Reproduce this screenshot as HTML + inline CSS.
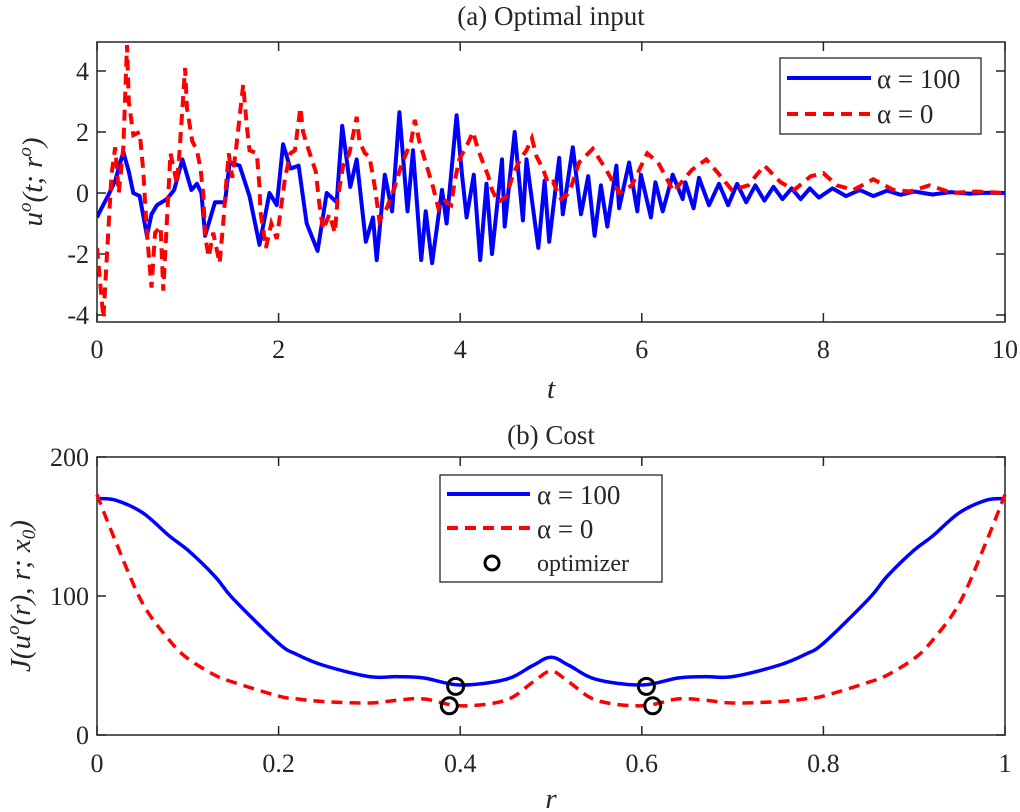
<!DOCTYPE html>
<html><head><meta charset="utf-8">
<style>
html,body{margin:0;padding:0;background:#fff;}
svg{display:block;font-family:"Liberation Serif","DejaVu Serif",serif;}
</style></head>
<body>
<svg id="fig" width="1020" height="812" viewBox="0 0 1020 812" xmlns="http://www.w3.org/2000/svg"></svg>
<script>
// Panel (a) data
const aBlueT = [0,0.05,0.12,0.2,0.29,0.35,0.4,0.47,0.55,0.6,0.66,0.77,0.85,0.94,1.04,1.1,1.15,1.19,1.3,1.41,1.46,1.57,1.68,1.79,1.9,1.98,2.05,2.13,2.22,2.31,2.43,2.53,2.64,2.7,2.79,2.86,2.96,3.04,3.08,3.17,3.25,3.33,3.42,3.48,3.57,3.62,3.69,3.8,3.85,3.96,4.02,4.07,4.15,4.22,4.29,4.35,4.46,4.49,4.6,4.69,4.73,4.86,4.93,4.98,5.09,5.13,5.24,5.33,5.41,5.48,5.55,5.62,5.72,5.75,5.86,5.95,5.99,6.1,6.15,6.23,6.34,6.45,6.48,6.57,6.63,6.74,6.85,6.95,7.05,7.15,7.25,7.35,7.45,7.55,7.65,7.75,7.85,7.95,8.1,8.25,8.4,8.55,8.7,8.85,9.0,9.2,9.4,9.6,9.8,10];
const aBlueU = [-0.8,-0.5,-0.1,0.4,1.35,0.7,0,-0.1,-1.4,-0.7,-0.4,-0.2,0.1,1.1,0.1,0.3,0,-1.4,-0.3,-0.3,1.0,0.9,-0.1,-1.7,0,-0.4,1.6,0.8,0.9,-1.0,-1.9,0,-0.3,2.2,0.2,1.1,-1.6,-0.8,-2.2,0.6,-0.6,2.65,-0.6,1.4,-2.2,-0.6,-2.3,0.1,-1.0,2.55,0.6,-0.8,0.6,-2.2,0.3,-2.0,1.1,-1.1,2.0,-0.9,1.1,-1.8,0.4,-1.6,1.15,-0.7,1.5,-0.7,0.55,-1.4,0.25,-1.1,0.9,-0.5,1.0,-0.6,0.6,-0.8,0.35,-0.6,0.6,-0.2,0.35,-0.5,0.5,-0.4,0.3,-0.4,0.3,-0.3,0.25,-0.25,0.2,-0.2,0.15,-0.2,0.15,-0.15,0.15,-0.1,0.1,-0.1,0.08,-0.06,0.05,-0.05,0.03,-0.02,0.01,0];
const aRedT = [0,0.07,0.16,0.2,0.24,0.29,0.33,0.35,0.4,0.47,0.51,0.55,0.6,0.64,0.7,0.73,0.77,0.81,0.88,0.91,0.97,0.99,1.05,1.1,1.14,1.17,1.19,1.23,1.28,1.35,1.39,1.42,1.45,1.49,1.53,1.61,1.65,1.68,1.76,1.79,1.8,1.86,1.92,1.98,2.04,2.07,2.13,2.18,2.24,2.27,2.31,2.36,2.41,2.45,2.49,2.56,2.62,2.65,2.71,2.78,2.86,2.89,2.95,3.0,3.06,3.11,3.19,3.28,3.35,3.46,3.5,3.55,3.63,3.7,3.76,3.81,3.9,3.94,3.99,4.08,4.14,4.2,4.25,4.31,4.35,4.42,4.51,4.58,4.66,4.73,4.79,4.84,4.91,4.97,5.02,5.11,5.2,5.31,5.46,5.6,5.75,5.89,6.06,6.18,6.35,6.55,6.71,6.84,6.99,7.17,7.35,7.53,7.68,7.86,8.0,8.15,8.33,8.55,8.77,8.95,9.17,9.42,9.68,10];
const aRedU = [-1.8,-4.1,0.6,1.5,0,1.5,4.85,3.0,1.9,2.0,0.7,-1.3,-3.1,-1.3,-1.1,-3.2,-0.9,1.3,0.3,1.4,4.1,2.8,1.7,1.4,0.8,0,-1.4,-2.1,-1.3,-2.3,-1.0,0.2,1.3,0.5,1.4,3.55,2.2,1.4,1.3,0.2,-0.6,-1.8,-1.0,-1.5,-0.2,0.5,1.3,1.4,2.8,2.0,1.6,1.15,0.7,-0.4,-1.2,-0.7,-1.3,-0.2,0.9,1.3,2.5,1.7,1.3,1.2,0.2,-0.9,-0.5,0.2,0.9,1.7,2.4,1.7,0.9,0.2,-0.5,-0.2,-0.4,0.4,1.1,1.6,2.0,1.4,1.0,0.55,0.1,-0.3,-0.1,0.6,1.1,1.4,1.8,1.2,0.8,0.3,0.37,-0.2,0,1.0,1.45,0.8,0,0.25,1.3,1.0,0.05,0.75,1.1,0.65,0.1,0.25,0.9,0.35,0.1,0.55,0.65,0.25,0.1,0.45,0.1,0.05,0.25,0,0.05,0];
const aXTicks = [0,2,4,6,8,10];
const aYTicks = [-4,-2,0,2,4];
// Panel (b) data
const bR = [0,0.02,0.05,0.08,0.1,0.13,0.15,0.2,0.22,0.25,0.3,0.33,0.36,0.4,0.45,0.48,0.5,0.52,0.55,0.6,0.64,0.67,0.7,0.75,0.78,0.8,0.85,0.87,0.9,0.92,0.95,0.98,1];
const bBlue = [170,169,160,143,133,114,98,66,58,50,42,42,41,36,40,50,56,50,40,36,41,42,42,50,58,66,98,114,133,143,160,169,170];
const bRed = [173,140,95,68,55,43,38,28,26,24,23,25,26,21,25,38,46,38,25,21,26,25,23,24,26,28,38,43,55,68,95,140,173];
const optR = [0.388,0.395,0.605,0.612];
const optJ = [21,35,35,21];
const bXTicks = [0,0.2,0.4,0.6,0.8,1];
const bXLabels = ["0","0.2","0.4","0.6","0.8","1"];
const bYTicks = [0,100,200];

const NS="http://www.w3.org/2000/svg";
const svg=document.getElementById('fig');
function el(tag,attrs,parent){const e=document.createElementNS(NS,tag);for(const k in attrs)e.setAttribute(k,attrs[k]);(parent||svg).appendChild(e);return e;}

const L=97,R=1005;
const ax=t=>L+(t/10)*(R-L);
const ay=u=>193-u*30.5;
const bx=r=>L+r*(R-L);
const by=j=>735-j*1.39;

function smoothPath(pts){
  let d='M'+pts[0][0].toFixed(1)+','+pts[0][1].toFixed(1);
  for(let i=0;i<pts.length-1;i++){
    const p0=pts[Math.max(0,i-1)],p1=pts[i],p2=pts[i+1],p3=pts[Math.min(pts.length-1,i+2)];
    const c1x=p1[0]+(p2[0]-p0[0])/6,c1y=p1[1]+(p2[1]-p0[1])/6;
    const c2x=p2[0]-(p3[0]-p1[0])/6,c2y=p2[1]-(p3[1]-p1[1])/6;
    d+=' C'+c1x.toFixed(1)+','+c1y.toFixed(1)+' '+c2x.toFixed(1)+','+c2y.toFixed(1)+' '+p2[0].toFixed(1)+','+p2[1].toFixed(1);
  }
  return d;
}
function frame(top,bottom,name){
  const g=el('g',{});
  
  
  el('rect',{x:L,y:top,width:R-L,height:bottom-top,fill:'none',stroke:'#262626','stroke-width':1.5},g);
  return g;
}
function txt(s,x,y,attrs,name,parent){
  const t=el('text',Object.assign({x:x,y:y,fill:'#262626','font-size':26},attrs),parent);
  t.textContent=s;
  
  
  return t;
}

// ---- Panel (a)
const gA=frame(42,322,'plot-a-axes');
aXTicks.forEach(v=>{const x=ax(v);
  el('line',{x1:x,y1:322,x2:x,y2:313,stroke:'#262626','stroke-width':1.5},gA);
  el('line',{x1:x,y1:42,x2:x,y2:51,stroke:'#262626','stroke-width':1.5},gA);
  txt(String(v),x,358,{'text-anchor':'middle'},'x-tick-label-a',gA);});
aYTicks.forEach(v=>{const y=ay(v);
  el('line',{x1:L,y1:y,x2:L+9,y2:y,stroke:'#262626','stroke-width':1.5},gA);
  el('line',{x1:R,y1:y,x2:R-9,y2:y,stroke:'#262626','stroke-width':1.5},gA);
  txt(String(v),89,y+9,{'text-anchor':'end'},'y-tick-label-a',gA);});
const clipA=el('clipPath',{id:'ca'});el('rect',{x:L,y:42,width:R-L,height:280},clipA);
const pb=aBlueT.map((t,i)=>ax(t).toFixed(1)+','+ay(aBlueU[i]).toFixed(1)).join(' ');
const lb=el('polyline',{points:pb,fill:'none',stroke:'#0000ff','stroke-width':4,'clip-path':'url(#ca)','stroke-linejoin':'round'});


const pr=aRedT.map((t,i)=>ax(t).toFixed(1)+','+ay(aRedU[i]).toFixed(1)).join(' ');
const lr=el('polyline',{points:pr,fill:'none',stroke:'#ff0000','stroke-width':4,'stroke-dasharray':'11,7','clip-path':'url(#ca)'});


txt('(a) Optimal input',551,25,{'text-anchor':'middle','font-size':27},'title-a');
txt('t',551,398,{'text-anchor':'middle','font-style':'italic','font-size':29},'x-axis-title-a');
const yta=txt('u',0,0,{'text-anchor':'middle','font-style':'italic','font-size':29,transform:'translate(42,182) rotate(-90)'},'y-axis-title-a');
yta.innerHTML='u<tspan dy="-11" font-size="19">o</tspan><tspan dy="11">(t; r</tspan><tspan dy="-11" font-size="19">o</tspan><tspan dy="11">)</tspan>';
const lgA=el('g',{});


el('rect',{x:780,y:58,width:201,height:76,fill:'#fff',stroke:'#262626','stroke-width':1.3},lgA);
el('line',{x1:787,y1:78,x2:871,y2:78,stroke:'#0000ff','stroke-width':4},lgA);
el('line',{x1:787,y1:114,x2:871,y2:114,stroke:'#ff0000','stroke-width':4,'stroke-dasharray':'11,7'},lgA);
txt('α = 100',877,88,{'font-size':27},'legend-entry-alpha-100',lgA);
txt('α = 0',877,123,{'font-size':27},'legend-entry-alpha-0',lgA);

// ---- Panel (b)
const gB=frame(457,735,'plot-b-axes');
bXTicks.forEach((v,i)=>{const x=bx(v);
  el('line',{x1:x,y1:735,x2:x,y2:726,stroke:'#262626','stroke-width':1.5},gB);
  el('line',{x1:x,y1:457,x2:x,y2:466,stroke:'#262626','stroke-width':1.5},gB);
  txt(bXLabels[i],x,772,{'text-anchor':'middle'},'x-tick-label-b',gB);});
bYTicks.forEach(v=>{const y=by(v);
  el('line',{x1:L,y1:y,x2:L+9,y2:y,stroke:'#262626','stroke-width':1.5},gB);
  el('line',{x1:R,y1:y,x2:R-9,y2:y,stroke:'#262626','stroke-width':1.5},gB);
  txt(String(v),89,y+9,{'text-anchor':'end'},'y-tick-label-b',gB);});
const lbb=el('path',{d:smoothPath(bR.map((r,i)=>[bx(r),by(bBlue[i])])),fill:'none',stroke:'#0000ff','stroke-width':3.5});


const lrb=el('path',{d:smoothPath(bR.map((r,i)=>[bx(r),by(bRed[i])])),fill:'none',stroke:'#ff0000','stroke-width':3.5,'stroke-dasharray':'11,7'});


optR.forEach((r,i)=>{
  const c=el('circle',{cx:bx(r),cy:by(optJ[i]),r:8,fill:'none',stroke:'#000','stroke-width':3});
  
  
});
txt('(b) Cost',551,444,{'text-anchor':'middle','font-size':27},'title-b');
txt('r',551,808,{'text-anchor':'middle','font-style':'italic','font-size':29},'x-axis-title-b');
const ytb=txt('J',0,0,{'text-anchor':'middle','font-style':'italic','font-size':29,transform:'translate(30,596) rotate(-90)'},'y-axis-title-b');
ytb.innerHTML='J(u<tspan dy="-11" font-size="19">o</tspan><tspan dy="11">(r), r; x</tspan><tspan dy="5" font-size="19">0</tspan><tspan dy="-5">)</tspan>';
const lgB=el('g',{});


el('rect',{x:440,y:475,width:222,height:107,fill:'#fff',stroke:'#262626','stroke-width':1.3},lgB);
el('line',{x1:447,y1:494,x2:530,y2:494,stroke:'#0000ff','stroke-width':4},lgB);
el('line',{x1:447,y1:528,x2:530,y2:528,stroke:'#ff0000','stroke-width':4,'stroke-dasharray':'11,7'},lgB);
el('circle',{cx:492,cy:563,r:7,fill:'none',stroke:'#000','stroke-width':3},lgB);
txt('α = 100',537,504,{'font-size':27},'legend-entry-alpha-100-b',lgB);
txt('α = 0',537,538,{'font-size':27},'legend-entry-alpha-0-b',lgB);
txt('optimizer',537,571,{'font-size':24},'legend-entry-optimizer',lgB);
</script>
</body></html>
